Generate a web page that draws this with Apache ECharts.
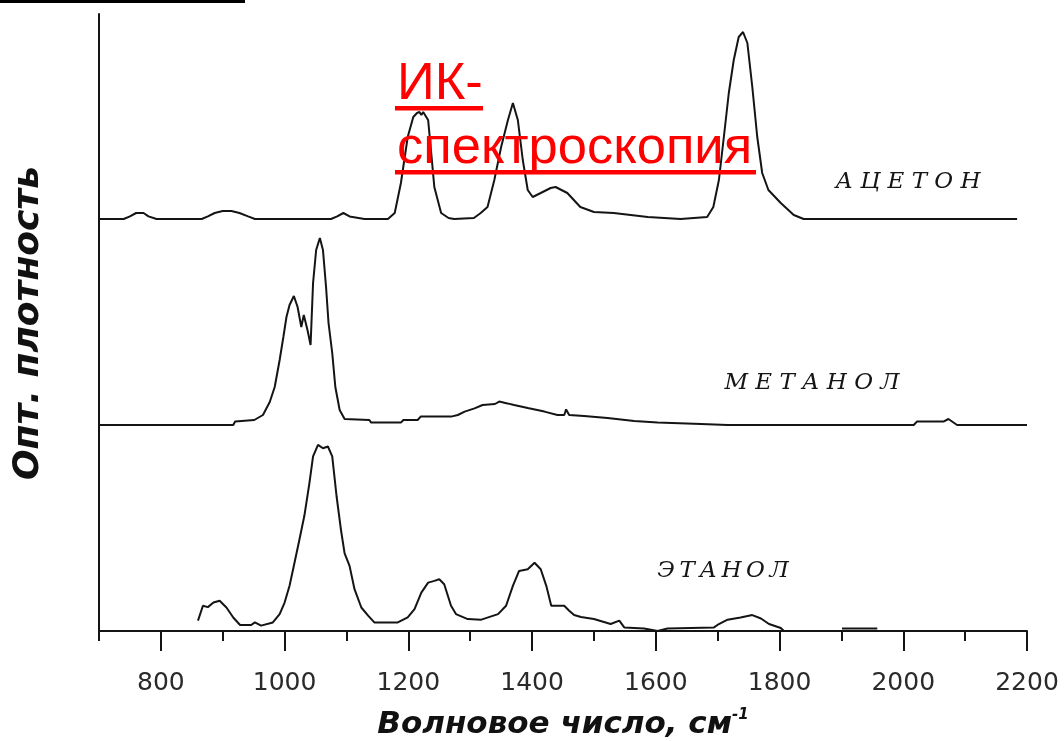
<!DOCTYPE html>
<html>
<head>
<meta charset="utf-8">
<title>ИК-спектроскопия</title>
<script src="https://cdn.jsdelivr.net/npm/echarts@6/dist/echarts.min.js"></script>
<style>
  html, body { margin: 0; padding: 0; background: #ffffff; }
  #chart { width: 1064px; height: 741px; }
</style>
</head>
<body>
<div id="chart"></div>
<script>
// IR spectra: [wavenumber, cm^-1 ; optical density, arbitrary units]
const acetone = [
  [700, 0], [740, 0], [750, 0.013], [760, 0.03], [772, 0.03], [780, 0.013], [793, 0],
  [866, 0], [876, 0.013], [887, 0.03], [900, 0.04], [914, 0.04], [927, 0.03], [941, 0.013], [952, 0],
  [1075, 0], [1085, 0.013], [1095, 0.03], [1105, 0.013], [1129, 0], [1167, 0],
  [1178, 0.03], [1188, 0.18], [1199, 0.41], [1208, 0.51], [1214, 0.53], [1218, 0.535],
  [1221, 0.52], [1224, 0.535], [1232, 0.495], [1237, 0.33], [1242, 0.16], [1253, 0.03],
  [1265, 0.005], [1274, 0], [1306, 0.005], [1317, 0.03], [1328, 0.06], [1339, 0.195],
  [1350, 0.36], [1361, 0.495], [1369, 0.58], [1377, 0.495], [1385, 0.295], [1393, 0.145],
  [1401, 0.11], [1414, 0.13], [1430, 0.155], [1438, 0.16], [1457, 0.13], [1478, 0.06],
  [1500, 0.035], [1532, 0.03], [1587, 0.01], [1640, 0], [1683, 0.01], [1693, 0.06],
  [1702, 0.195], [1710, 0.41], [1718, 0.63], [1726, 0.795], [1734, 0.91], [1741, 0.935],
  [1748, 0.88], [1756, 0.66], [1764, 0.41], [1772, 0.23], [1782, 0.145], [1802, 0.08],
  [1823, 0.02], [1839, 0], [2184, 0]
];

const methanol = [
  [700, 0], [917, 0], [920, 0.017], [951, 0.025], [965, 0.05], [976, 0.115], [984, 0.19],
  [992, 0.325], [998, 0.44], [1003, 0.54], [1008, 0.6], [1015, 0.645], [1021, 0.59],
  [1027, 0.49], [1031, 0.55], [1037, 0.475], [1042, 0.4], [1046, 0.71], [1051, 0.875],
  [1057, 0.935], [1062, 0.875], [1067, 0.69], [1071, 0.51], [1077, 0.36], [1082, 0.19],
  [1089, 0.075], [1097, 0.03], [1137, 0.025], [1140, 0.012], [1188, 0.012], [1192, 0.025],
  [1215, 0.025], [1220, 0.042], [1269, 0.042], [1280, 0.05], [1291, 0.067], [1307, 0.083],
  [1320, 0.1], [1340, 0.105], [1347, 0.117], [1360, 0.108], [1371, 0.1], [1393, 0.085],
  [1420, 0.067], [1441, 0.05], [1452, 0.05], [1455, 0.078], [1460, 0.05], [1484, 0.045],
  [1522, 0.035], [1565, 0.02], [1603, 0.012], [1673, 0.005], [1716, 0], [2017, 0],
  [2022, 0.017], [2065, 0.017], [2073, 0.03], [2087, 0], [2200, 0]
];

const ethanol = [
  [860, 0.052], [868, 0.127], [876, 0.12], [885, 0.143], [895, 0.152], [906, 0.118],
  [917, 0.068], [928, 0.03], [946, 0.03], [952, 0.043], [962, 0.027], [981, 0.043],
  [992, 0.085], [1000, 0.143], [1008, 0.227], [1016, 0.343], [1024, 0.46], [1032, 0.58],
  [1040, 0.74], [1046, 0.877], [1054, 0.935], [1062, 0.918], [1070, 0.927], [1077, 0.877],
  [1084, 0.677], [1091, 0.51], [1097, 0.39], [1105, 0.327], [1113, 0.21], [1124, 0.118],
  [1135, 0.077], [1145, 0.043], [1183, 0.043], [1199, 0.068], [1210, 0.11], [1221, 0.193],
  [1232, 0.243], [1242, 0.252], [1250, 0.26], [1258, 0.235], [1269, 0.127], [1277, 0.085],
  [1296, 0.06], [1318, 0.057], [1345, 0.085], [1358, 0.127], [1369, 0.227], [1379, 0.302],
  [1393, 0.31], [1404, 0.343], [1414, 0.31], [1423, 0.227], [1431, 0.127], [1452, 0.127],
  [1460, 0.102], [1468, 0.08], [1479, 0.07], [1500, 0.06], [1527, 0.035], [1541, 0.052],
  [1549, 0.018], [1581, 0.013], [1603, 0], [1619, 0.013], [1694, 0.018], [1702, 0.035],
  [1716, 0.057], [1737, 0.068], [1756, 0.08], [1770, 0.063], [1783, 0.035], [1802, 0.015],
  [1807, 0], [1850, '-'], [1901, 0.012], [1958, 0.012]
];

const xMajorTicks = [800, 1000, 1200, 1400, 1600, 1800, 2000, 2200];
const xMinorTicks = [700, 900, 1100, 1300, 1500, 1700, 1900, 2100];

const seriesNames = ['А Ц Е Т О Н', 'М Е Т А Н О Л', 'Э\u2009Т\u2009А\u2009Н\u2009О\u2009Л'];
const xTitle = 'Волновое число, см';
const xTitleSup = '-1';
const yTitle = 'Опт. плотность';
const headingLines = ['ИК-', 'спектроскопия'];

const X_MIN = 700, X_MAX = 2200;
const INK = '#141414';

const chart = echarts.init(document.getElementById('chart'), null, { renderer: 'canvas' });

// three stacked panels sharing one wavenumber scale
const panels = [
  { top: 14, height: 205, max: 1.025 },
  { top: 219, height: 206, max: 1.03 },
  { top: 425, height: 207, max: 1.035 }
];

const grids = panels.map(p => ({ left: 99, width: 928, top: p.top, height: p.height }));

const yAxes = panels.map((p, i) => ({
  type: 'value', gridIndex: i, min: 0, max: p.max,
  axisLine: { show: true, lineStyle: { color: INK, width: 2 } },
  axisTick: { show: false }, axisLabel: { show: false }, splitLine: { show: false }
}));

const hiddenX = i => ({
  type: 'value', gridIndex: i, min: X_MIN, max: X_MAX, show: false,
  splitLine: { show: false }
});

// bare axis in the bottom panel that only carries a set of ticks
const tickAxis = (values, length) => ({
  type: 'value', gridIndex: 2, min: X_MIN, max: X_MAX, position: 'bottom',
  axisLine: { show: false, onZero: false },
  axisTick: { show: true, length, customValues: values, lineStyle: { color: INK, width: 2 } },
  axisLabel: { show: false, customValues: values }, splitLine: { show: false }
});

const xAxes = [
  hiddenX(0),
  hiddenX(1),
  // wavenumber axis: line, labels and title
  {
    type: 'value', gridIndex: 2, min: X_MIN, max: X_MAX, position: 'bottom',
    axisLine: { show: true, onZero: false, lineStyle: { color: INK, width: 2 } },
    axisTick: { show: false },
    axisLabel: { show: true, customValues: xMajorTicks, margin: 40,
                 formatter: v => String(v),
                 fontFamily: 'DejaVu Sans', fontSize: 25, color: '#2a2a2a' },
    splitLine: { show: false },
    name: '{t|' + xTitle + '}{s|' + xTitleSup + '}',
    nameLocation: 'middle', nameGap: 77,
    nameTextStyle: {
      rich: {
        t: { fontFamily: 'DejaVu Sans', fontWeight: 'bold', fontStyle: 'italic',
             fontSize: 31, color: '#111', lineHeight: 33 },
        s: { fontFamily: 'DejaVu Sans', fontWeight: 'bold', fontStyle: 'italic',
             fontSize: 15, color: '#111', lineHeight: 16, verticalAlign: 'top' }
      }
    }
  },
  tickAxis(xMajorTicks, 20),
  tickAxis(xMinorTicks, 10)
];

const makeLine = (data, idx) => ({
  type: 'line', data, xAxisIndex: idx, yAxisIndex: idx,
  showSymbol: false, symbol: 'none', smooth: false, connectNulls: false,
  lineStyle: { color: INK, width: 2 }, animation: false, silent: true
});

const labelText = (text, x, y) => ({
  type: 'text', x, y, silent: true,
  style: { text, fontFamily: 'DejaVu Serif', fontStyle: 'italic', fontSize: 23,
           fill: '#151515', align: 'center', verticalAlign: 'middle' }
});

chart.setOption({
  backgroundColor: '#ffffff',
  animation: false,
  grid: grids,
  xAxis: xAxes,
  yAxis: yAxes,
  series: [makeLine(acetone, 0), makeLine(methanol, 1), makeLine(ethanol, 2)],
  graphic: [
    // rule along the top edge
    { type: 'rect', silent: true, shape: { x: 0, y: 0, width: 245, height: 3 }, style: { fill: '#000' } },
    // vertical axis title
    { type: 'text', x: 29, y: 323, rotation: Math.PI / 2, silent: true,
      style: { text: yTitle, fontFamily: 'DejaVu Sans', fontWeight: 'bold', fontStyle: 'italic',
               fontSize: 36, fill: '#111', align: 'center', verticalAlign: 'middle' } },
    // curve captions
    labelText(seriesNames[0], 908, 182),
    labelText(seriesNames[1], 812, 383),
    labelText(seriesNames[2], 723, 571),
    // red underlined heading
    { type: 'text', x: 397, y: 85, silent: true, z: 10,
      style: { text: headingLines[0], fontFamily: 'Liberation Sans', fontSize: 52.5,
               fill: '#ff0000', align: 'left', verticalAlign: 'middle' } },
    { type: 'text', x: 397, y: 149, silent: true, z: 10,
      style: { text: headingLines[1], fontFamily: 'Liberation Sans', fontSize: 52.5,
               fill: '#ff0000', align: 'left', verticalAlign: 'middle' } },
    { type: 'rect', silent: true, z: 10, shape: { x: 395, y: 106, width: 88, height: 4.5 }, style: { fill: '#ff0000' } },
    { type: 'rect', silent: true, z: 10, shape: { x: 395, y: 170, width: 361, height: 4.5 }, style: { fill: '#ff0000' } }
  ]
});
</script>
</body>
</html>
